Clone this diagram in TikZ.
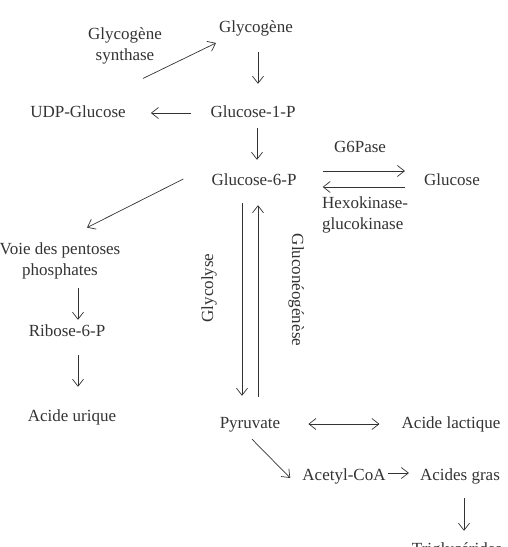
\documentclass[tikz,border=0pt]{standalone}
\usepackage{fontspec}
\setmainfont{Liberation Serif}
\usetikzlibrary{arrows.meta}
\definecolor{ink}{HTML}{333333}
\begin{document}
\begin{tikzpicture}[x=1pt,y=-1pt,>={Straight Barb[length=7pt,width=11pt]},
  every node/.style={font=\fontsize{17}{21}\selectfont, text=ink, inner sep=0pt},
  mol/.style={text height=12pt, text depth=4pt},
  arr/.style={draw=ink, line width=0.7pt, ->}]
  \useasboundingbox (0,0) rectangle (508,547);
  % metabolites
  \node[mol] (glycogene) at (256,28) {Glycogène};
  \node[align=center] (synthase) at (125,46) {Glycogène\\synthase};
  \node[mol] (gone) at (253,113) {Glucose-1-P};
  \node[mol] (udp) at (78,113) {UDP-Glucose};
  \node[mol] (gsix) at (254,181) {Glucose-6-P};
  \node[mol] (glucose) at (452,181) {Glucose};
  \node[mol] (gsixpase) at (360,148) {G6Pase};
  \node[align=left, anchor=west] (hexo) at (322,215) {Hexokinase-\\glucokinase};
  \node[align=center] (pentoses) at (60,261) {Voie des pentoses\\phosphates};
  \node[mol] (ribose) at (67,332) {Ribose-6-P};
  \node[mol] (urique) at (72,417) {Acide urique};
  \node[mol] (pyruvate) at (250,424) {Pyruvate};
  \node[mol] (lactique) at (451,424) {Acide lactique};
  \node[mol] (acetyl) at (344,476) {Acetyl-CoA};
  \node[mol] (gras) at (460,476) {Acides gras};
  \node[mol] (trig) at (457,550) {Triglycérides};
  \node[mol, rotate=90] (glycolyse) at (209,288) {Glycolyse};
  \node[mol, rotate=-90] (gluconeo) at (296,290) {Gluconéogénèse};
  % reactions
  \draw[arr] ([xshift=18pt,yshift=-14pt]synthase.south) -- ([xshift=-3pt,yshift=-15pt]glycogene.west);
  \draw[arr, shorten <=16pt, shorten >=21pt] ([xshift=2pt]glycogene.south) -- ([xshift=5pt]gone.north);
  \draw[arr, shorten <=19pt, shorten >=25pt] (gone.west) -- (udp.east);
  \draw[arr, shorten <=7pt, shorten >=13pt] ([xshift=4pt]gone.south) -- ([xshift=3pt]gsix.north);
  \draw[arr, shorten <=26pt, shorten >=19pt] ([yshift=10pt]gsix.east) -- ([yshift=10pt]glucose.west);
  \draw[arr, shorten <=19pt, shorten >=26pt] ([yshift=-6pt]glucose.west) -- ([yshift=-6pt]gsix.east);
  \draw[arr] ([xshift=-28pt,yshift=2pt]gsix.west) -- ([xshift=27pt,yshift=15pt]pentoses.north);
  \draw[arr, shorten <=9pt, shorten >=4pt] ([xshift=18pt]pentoses.south) -- ([xshift=11pt]ribose.north);
  \draw[arr, shorten <=15pt, shorten >=22pt] ([xshift=11pt]ribose.south) -- ([xshift=6pt]urique.north);
  \draw[arr, shorten <=14pt, shorten >=20pt] ([xshift=-12pt]gsix.south) -- ([xshift=-8pt]pyruvate.north);
  \draw[arr, shorten <=19pt, shorten >=16pt] ([xshift=8pt]pyruvate.north) -- ([xshift=4pt]gsix.south);
  \draw[arr, <->, shorten <=28pt, shorten >=22pt] (pyruvate.east) -- (lactique.west);
  \draw[arr] ([xshift=2pt,yshift=-7pt]pyruvate.south) -- ([xshift=-12pt,yshift=-2pt]acetyl.west);
  \draw[arr, shorten <=2pt, shorten >=11pt] ([yshift=3pt]acetyl.east) -- ([yshift=3pt]gras.west);
  \draw[arr, shorten <=14pt, shorten >=11pt] ([xshift=4pt]gras.south) -- ([xshift=7pt]trig.north);
\end{tikzpicture}
\end{document}
